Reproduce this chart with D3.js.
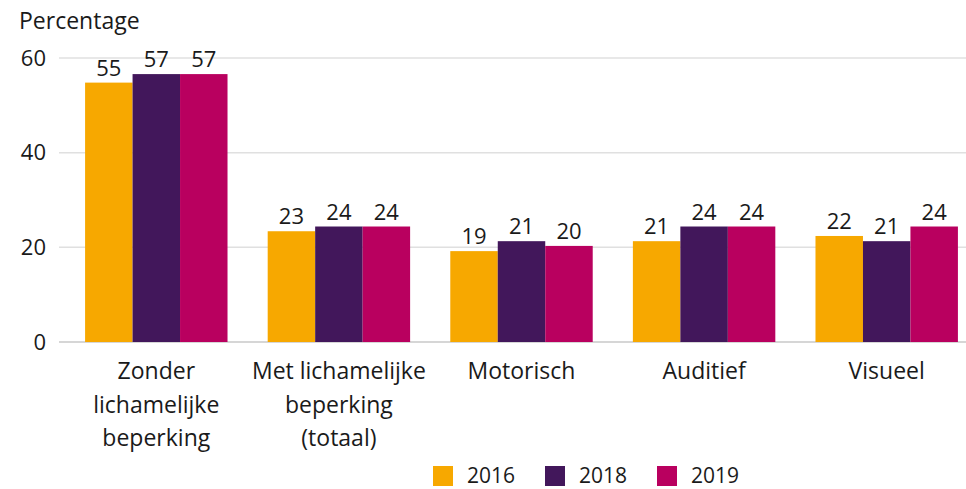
<!DOCTYPE html>
<html lang="nl">
<head>
    <meta charset="UTF-8">
    <title>Percentage per beperking</title>
    <script src="https://cdn.jsdelivr.net/npm/d3@7/dist/d3.min.js"></script>
    <style>
        body { margin: 0; background: #fff; }
        text { font-family: "Open Sans", sans-serif; fill: #1a1a1a; }
    </style>
</head>
<body>
<script>
    // canvas
    const width = 966;
    const height = 489;

    // data
    const categories = [
        ['Zonder', 'lichamelijke', 'beperking'],
        ['Met lichamelijke', 'beperking', '(totaal)'],
        ['Motorisch'],
        ['Auditief'],
        ['Visueel']
    ];
    const years = ['2016', '2018', '2019'];
    const v2016 = [54.8, 23.4, 19.2, 21.3, 22.4];
    const v2018 = [56.6, 24.4, 21.3, 24.4, 21.3];
    const v2019 = [56.6, 24.4, 20.3, 24.4, 24.4];
    const yTicks = [0, 20, 40, 60];
    const colors = ['#f7a800', '#42175b', '#b9005f'];

    const series = [v2016, v2018, v2019];

    let svg = d3.select('body')
        .append('svg')
        .attr('width', width)
        .attr('height', height);

    // scales
    let x0 = d3.scaleBand()
        .domain(d3.range(categories.length))
        .range([65, 978])
        .paddingInner(0.22)
        .paddingOuter(0.11);

    let x1 = d3.scaleBand()
        .domain(years)
        .range([0, x0.bandwidth()]);

    let y = d3.scaleLinear()
        .domain([0, 60])
        .range([342, 58]);

    // gridlines + y labels
    let grid = svg.append('g');
    grid.selectAll('line')
        .data(yTicks)
        .enter()
        .append('line')
        .attr('x1', 59)
        .attr('x2', width)
        .attr('y1', d => y(d))
        .attr('y2', d => y(d))
        .attr('stroke', d => d === 0 ? '#d6d6d6' : '#e0e0e0')
        .attr('stroke-width', d => d === 0 ? 2 : 1.5);

    grid.selectAll('text')
        .data(yTicks)
        .enter()
        .append('text')
        .attr('x', 46)
        .attr('y', d => y(d))
        .attr('dy', '0.35em')
        .attr('text-anchor', 'end')
        .style('font-size', '22px')
        .text(d => d);

    svg.append('text')
        .attr('x', 19)
        .attr('y', 29)
        .style('font-size', '23px')
        .text('Percentage');

    // bars
    let groups = svg.selectAll('g.cat')
        .data(categories)
        .enter()
        .append('g')
        .attr('class', 'cat')
        .attr('transform', (d, i) => `translate(${x0(i)},0)`);

    groups.each(function (cat, i) {
        let g = d3.select(this);
        let vals = years.map((yr, j) => ({ yr: yr, v: series[j][i], c: colors[j] }));

        g.selectAll('rect')
            .data(vals)
            .enter()
            .append('rect')
            .attr('x', d => x1(d.yr))
            .attr('width', x1.bandwidth())
            .attr('y', d => y(d.v))
            .attr('height', d => y(0) - y(d.v))
            .attr('fill', d => d.c);

        g.selectAll('text.val')
            .data(vals)
            .enter()
            .append('text')
            .attr('class', 'val')
            .attr('x', d => x1(d.yr) + x1.bandwidth() / 2)
            .attr('y', d => y(d.v) - 7)
            .attr('text-anchor', 'middle')
            .style('font-size', '22px')
            .text(d => Math.round(d.v));

        // category label, multi line
        let lbl = g.append('text')
            .attr('text-anchor', 'middle')
            .style('font-size', '23px');
        lbl.selectAll('tspan')
            .data(cat)
            .enter()
            .append('tspan')
            .attr('x', x0.bandwidth() / 2)
            .attr('y', (d, k) => 379 + k * 33.5)
            .text(d => d);
    });

    // legend
    let legend = svg.selectAll('g.legend')
        .data(years)
        .enter()
        .append('g')
        .attr('class', 'legend')
        .attr('transform', (d, i) => `translate(${433 + i * 112},466)`);

    legend.append('rect')
        .attr('width', 20)
        .attr('height', 20)
        .attr('fill', (d, i) => colors[i]);

    legend.append('text')
        .attr('x', 34)
        .attr('y', 17)
        .style('font-size', '21px')
        .text(d => d);
</script>
</body>
</html>
